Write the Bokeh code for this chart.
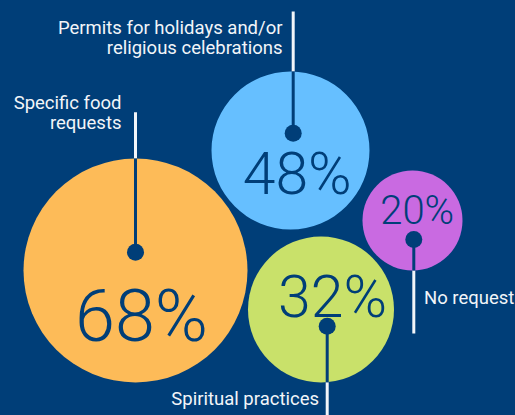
import math
from bokeh.plotting import figure
from bokeh.models import Range1d
from bokeh.core.properties import value
from bokeh.embed import file_html
from bokeh.resources import INLINE

# ---- data ----
categories = ["Specific food requests", "Permits for holidays and/or religious celebrations",
              "Spiritual practices", "No request"]
label_lines = [["Specific food", "requests"],
               ["Permits for holidays and/or", "religious celebrations"],
               ["Spiritual practices"],
               ["No request"]]
percent = [68, 48, 32, 20]

# ---- layout (pixel space) ----
BG = "#003e78"
colors = ["#fdbb58", "#66bfff", "#c9e16a", "#c96ae1"]
cx = [135, 290, 320.5, 412]
cy = [270, 150, 309, 220]
rad = [112, 79, 73, 50]
dot_x = [135, 292.7, 326.7, 413.3]
dot_y = [251.7, 132.7, 325.7, 239]
lead_end = [111.7, 11, 420, 333]          # where the leader line ends (label side)
num_x = [141, 296.7, 332, 416.7]
num_y = [340, 192.7, 315.7, 222.7]        # visual baselines
num_size = [72, 59, 59, 40]
lab_x = [121, 282, 318.5, 423.5]
lab_y = [128.5, 33.3, 405, 304]           # visual baseline of the last / first line
lab_align = ["right", "right", "right", "left"]
LAB_SIZE = 18.5
LINE_H = 20
SHIFT = 0.33                               # baseline correction (fraction of font size)

p = figure(width=515, height=415, output_backend="svg", toolbar_location=None,
           x_range=Range1d(0, 515), y_range=Range1d(415, 0), min_border=0,
           background_fill_color=BG, border_fill_color=BG, outline_line_color=None)
p.axis.visible = False
p.grid.visible = False

# bubbles
p.circle(x=cx, y=cy, radius=rad, fill_color=colors, line_color=None)

# leader lines
wx0, wy0, wx1, wy1 = [], [], [], []
dx0, dy0, dx1, dy1 = [], [], [], []
for i in range(4):
    h = math.sqrt(max(rad[i] ** 2 - (dot_x[i] - cx[i]) ** 2, 0))
    edge = cy[i] - h if lead_end[i] < dot_y[i] else cy[i] + h
    wx0.append(dot_x[i]); wy0.append(lead_end[i]); wx1.append(dot_x[i]); wy1.append(edge)
    dx0.append(dot_x[i]); dy0.append(edge); dx1.append(dot_x[i]); dy1.append(dot_y[i])
p.segment(x0=wx0, y0=wy0, x1=wx1, y1=wy1, line_color="#f2f5f9", line_width=3)
p.segment(x0=dx0, y0=dy0, x1=dx1, y1=dy1, line_color=BG, line_width=3)
p.scatter(x=dot_x, y=dot_y, size=17, marker="circle", fill_color=BG, line_color=None)

# percentages
for i in range(4):
    p.text(x=[num_x[i]], y=[num_y[i] - SHIFT * num_size[i]], text=[f"{percent[i]}%"],
           text_font=value("Roboto Light"), text_font_size=f"{num_size[i]}px",
           text_color=BG, text_align="center", text_baseline="alphabetic")

# labels
for i in range(4):
    lines = label_lines[i]
    n = len(lines)
    for j, t in enumerate(lines):
        if i == 0:
            yb = lab_y[i] - (n - 1 - j) * LINE_H
        else:
            yb = lab_y[i] + j * LINE_H
        p.text(x=[lab_x[i]], y=[yb - SHIFT * LAB_SIZE], text=[t], text_font=value("Roboto"),
               text_font_size=f"{LAB_SIZE}px", text_color="#f2f5f9",
               text_align=lab_align[i], text_baseline="alphabetic")

html = file_html(p, INLINE)
html = html.replace("</head>", "<style>html,body{background:#003e78;}</style></head>", 1)
open("out.html", "w").write(html)
